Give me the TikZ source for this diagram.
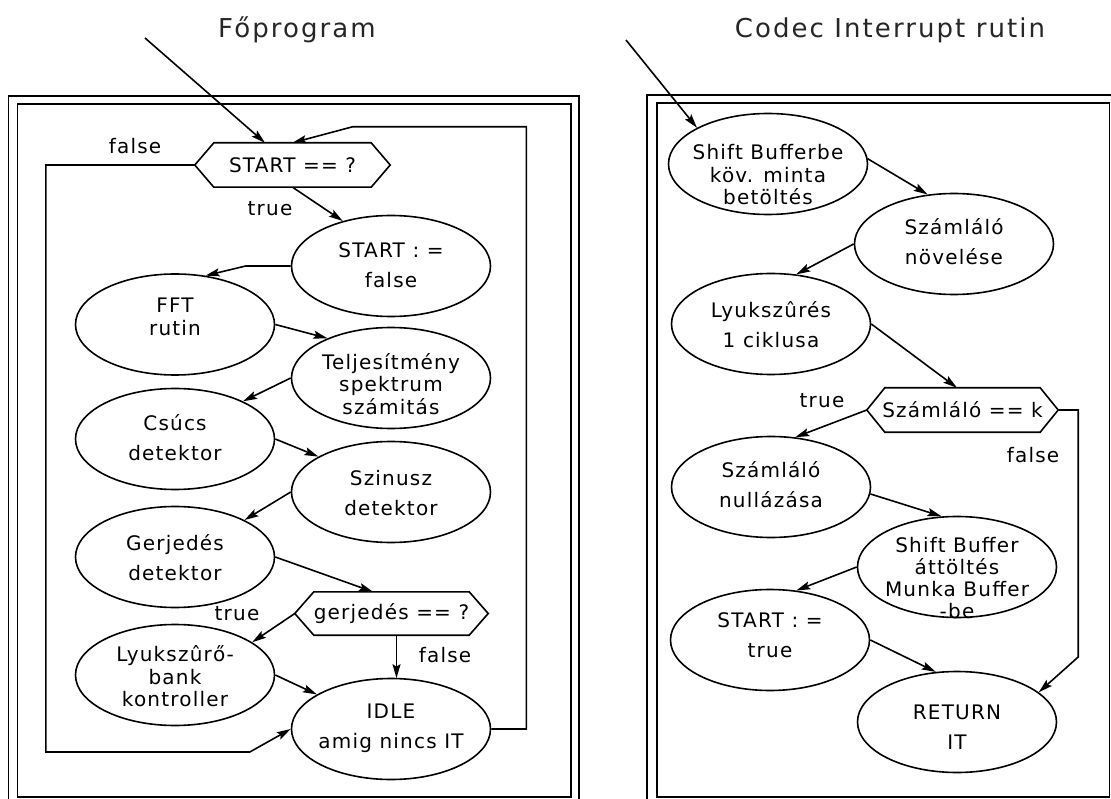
\documentclass[tikz,border=0pt]{standalone}
\usepackage{fontspec}
\usetikzlibrary{arrows.meta,shapes.geometric}
\newfontfamily\nodefont[LetterSpace=6]{DejaVu Sans}
\newfontfamily\titlefont[LetterSpace=8]{DejaVu Sans}

% outline of a decision box: pointed left and right ends
\newcommand\hexpath[2]{%
  \draw[ln] (#1.west) -- ([xshift=#2]#1.north west) -- ([xshift=-#2]#1.north east)
    -- (#1.east) -- ([xshift=-#2]#1.south east) -- ([xshift=#2]#1.south west) -- cycle;}

\begin{document}
\begin{tikzpicture}[x=1pt,y=-1pt,
  ln/.style={line width=1.6pt},
  arr/.style={ln, -{Stealth[length=14pt,width=8pt,inset=2.5pt]}},
  ell/.style={draw, ellipse, line width=1.6pt, minimum width=199pt, minimum height=101pt, inner sep=0pt},
  txt/.style={font=\nodefont\fontsize{20}{30}\selectfont, align=center, inner sep=0pt},
  txtc/.style={font=\nodefont\fontsize{20}{22.5}\selectfont, align=center, inner sep=0pt},
  hexb/.style={rectangle, inner sep=0pt, minimum height=44pt, font=\nodefont\fontsize{20}{24}\selectfont},
  lbl/.style={font=\nodefont\fontsize{20}{24}\selectfont, inner sep=0pt},
  ttl/.style={font=\titlefont\fontsize{26}{30}\selectfont, text=black!85, inner sep=0pt},
  frame/.style={line width=1.8pt}
]
\useasboundingbox (0,0) rectangle (1111,799);
\clip (0,0) rectangle (1111,799);

% titles
\node[ttl] (t1) at (297,30) {Főprogram};
\node[ttl] (t2) at (890,30) {Codec Interrupt rutin};

% double frames
\draw[frame] (8.5,96) rectangle (579,806);
\draw[frame] (17.5,104) rectangle (571,797);
\draw[frame] (647,95) rectangle (1120,806);
\draw[frame] (657,103) rectangle (1109.5,797);

% ---------------- main program ----------------
\node[hexb, minimum width=195pt] (hq1) at (292.5,165) {START == ?};
\hexpath{hq1}{19pt}
\node[ell] (sf) at (391,266) {};
\node[txt] (sft) at (391,265) {START : =\\false};
\node[ell] (fft) at (175,324.5) {};
\node[txtc] (fftt) at (175,317) {FFT\\rutin};
\node[ell] (telj) at (391,378) {};
\node[txtc] (teljt) at (391,384) {Teljesítmény\\spektrum\\számitás};
\node[ell] (csucs) at (175,439) {};
\node[txt] (csucst) at (175,437.5) {Csúcs\\detektor};
\node[ell] (szin) at (391,492) {};
\node[txt] (szint) at (391,493) {Szinusz\\detektor};
\node[ell] (gerj) at (175,557) {};
\node[txt] (gerjt) at (175,558) {Gerjedés\\detektor};
\node[hexb, minimum width=193pt, minimum height=43pt] (hq2) at (391.5,613.5) {gerjedés == ?};
\hexpath{hq2}{19pt}
\node[ell] (lyuk) at (175,675) {};
\node[txtc] (lyukt) at (175,676.5) {Lyukszûrő-\\bank\\kontroller};
\node[ell] (idle) at (391,729) {};
\node[txt] (idlet) at (391,728) {IDLE\\amig nincs IT};

\coordinate (inL) at (145,38);
\draw[arr] (inL) -- ([xshift=-27.5pt]hq1.north);
\draw[arr] (idle.east) -- ++(35,0) |- ([xshift=60pt,yshift=16pt]hq1.north) -- (hq1.north);
\draw[arr] (hq1.west) -- ++(-149,0) -- ++(0,587) -- ++(204,0) -- (idle.west);
\draw[arr] (hq1.south) -- (sf.137);
\draw[arr] (sf.west) -- ++(-45,0) -- (fft.58);
\draw[arr] (fft.east) -- (telj.148);
\draw[arr] (telj.west) -- (csucs.29);
\draw[arr] (csucs.east) -- (szin.154);
\draw[arr] (szin.west) -- (gerj.28);
\draw[arr] (gerj.east) -- ([xshift=-18.5pt]hq2.north);
\draw[arr] (hq2.west) -- (lyuk.23);
\draw[arr] ([xshift=5pt]hq2.south) -- ++(0,43);
\draw[arr] (lyuk.east) -- (idle.155);

\node[lbl] (lf1) at (135,146) {false};
\node[lbl] (lt1) at (270,209) {true};
\node[lbl] (lt2) at (237,614) {true};
\node[lbl] (lf2) at (445,655) {false};

% ---------------- codec interrupt routine ----------------
\node[ell] (sb) at (768,164) {};
\node[txtc] (sbt) at (768,175) {Shift Bufferbe\\köv. minta\\betöltés};
\node[ell] (sn) at (954,244) {};
\node[txt] (snt) at (954,242) {Számláló\\növelése};
\node[ell] (ly) at (771,324) {};
\node[txt] (lyt) at (771,325) {Lyukszûrés\\1 ciklusa};
\node[hexb, minimum width=191pt] (hq3) at (962.5,410) {Számláló == k};
\hexpath{hq3}{18pt}
\node[ell] (sz) at (771,487) {};
\node[txt] (szt) at (771,485) {Számláló\\nullázása};
\node[ell] (ab) at (957,567) {};
\node[txtc, font=\nodefont\fontsize{20}{22}\selectfont] (abt) at (957,578) {Shift Buffer\\áttöltés\\Munka Buffer\\-be};
\node[ell] (st) at (770,640) {};
\node[txt] (stt) at (770,635) {START : =\\true};
\node[ell] (ret) at (957,722) {};
\node[txt] (rett) at (957,727.5) {RETURN\\IT};

\coordinate (inR) at (626,40);
\draw[arr] (inR) -- (sb.153);
\draw[arr] (sb.3) -- (sn.118);
\draw[arr] (sn.west) -- (ly.63);
\draw[arr] (ly.east) -- ([xshift=-5.5pt]hq3.north);
\draw[arr] (hq3.west) -- (sz.64);
\draw[arr] (hq3.east) -- ++(20,0) -- ++(0,247) -- (ret.20);
\draw[arr] (sz.-4) -- (ab.107);
\draw[arr] (ab.west) -- (st.62);
\draw[arr] (st.east) -- (ret.113);

\node[lbl] (lt3) at (822,401) {true};
\node[lbl] (lf3) at (1033,455) {false};
\end{tikzpicture}
\end{document}
